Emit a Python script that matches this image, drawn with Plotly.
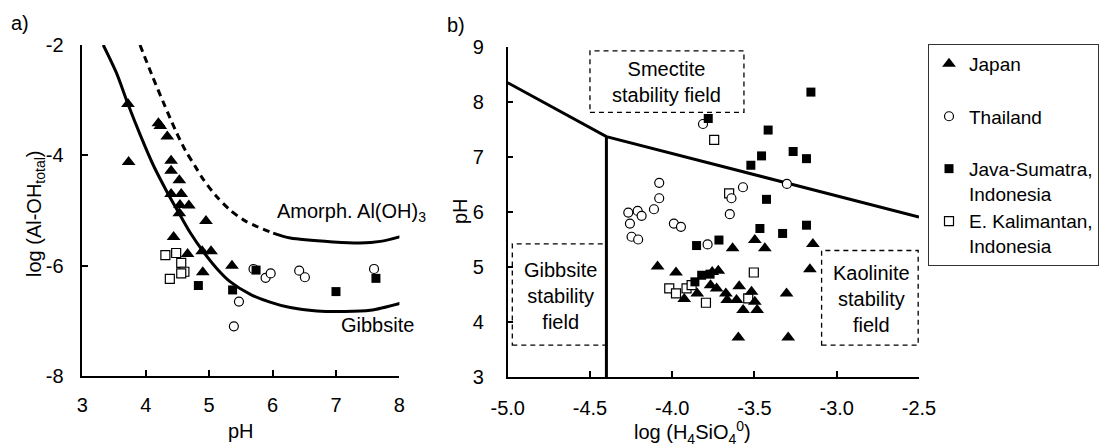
import plotly.graph_objects as go

# ---------------- Panel a data: pH vs log(Al-OH total) ----------------
japan_a_ph = [3.72, 3.73, 4.20, 4.23, 4.34, 4.40, 4.40, 4.53, 4.40, 4.56, 4.54, 4.68, 4.53, 4.95, 4.44, 4.66, 4.89, 5.03, 4.90, 5.36]
japan_a_al = [-3.07, -4.12, -3.42, -3.47, -3.66, -4.10, -4.28, -4.45, -4.70, -4.70, -4.90, -4.91, -5.05, -5.19, -5.48, -5.79, -5.74, -5.74, -6.12, -6.00]

thai_a_ph = [5.70, 5.89, 5.97, 5.47, 5.39, 6.42, 6.51, 7.60]
thai_a_al = [-6.06, -6.22, -6.14, -6.65, -7.10, -6.09, -6.21, -6.06]

java_a_ph = [4.83, 5.37, 5.74, 7.00, 7.63]
java_a_al = [-6.36, -6.44, -6.08, -6.47, -6.23]

kal_a_ph = [4.31, 4.48, 4.56, 4.61, 4.56, 4.38]
kal_a_al = [-5.81, -5.77, -5.95, -6.11, -6.14, -6.24]

gibbsite_ph = [3.33, 3.54, 3.72, 3.91, 4.12, 4.33, 4.51, 4.70, 4.91, 5.12, 5.33, 5.65, 5.96, 6.28, 6.70, 7.10, 7.54, 8.12]
gibbsite_al = [-2.00, -2.51, -3.07, -3.62, -4.18, -4.65, -5.02, -5.40, -5.75, -6.05, -6.29, -6.52, -6.66, -6.76, -6.82, -6.83, -6.81, -6.65]

amorph_dash_ph = [3.91, 4.10, 4.30, 4.47, 4.62, 4.78, 4.91, 5.12, 5.33, 5.54, 5.75, 6.01]
amorph_dash_al = [-2.00, -2.55, -3.10, -3.55, -3.90, -4.20, -4.44, -4.75, -4.99, -5.17, -5.29, -5.41]
amorph_solid_ph = [6.01, 6.28, 6.96, 7.38, 7.70, 8.12]
amorph_solid_al = [-5.41, -5.50, -5.57, -5.59, -5.56, -5.44]

# ---------------- Panel b data: log(H4SiO4) vs pH ----------------
japan_b_si = [-4.089, -3.977, -3.927, -3.848, -3.633, -3.498, -3.437, -3.757, -3.720, -3.767, -3.730, -3.674,
              -3.666, -3.593, -3.609, -3.569, -3.518, -3.498, -3.484, -3.598, -3.305, -3.295, -3.163, -3.145]
japan_b_ph = [5.01, 4.90, 4.42, 4.52, 5.34, 5.49, 5.34, 4.91, 4.93, 4.67, 4.61, 4.52,
              4.40, 4.65, 4.40, 4.22, 4.55, 4.37, 4.22, 3.72, 4.52, 3.72, 4.96, 5.42]

thai_b_si = [-3.813, -4.267, -4.210, -4.186, -4.257, -4.247, -4.207, -4.111, -4.079, -4.079, -3.990, -3.947,
             -3.785, -3.650, -3.640, -3.570, -3.303]
thai_b_ph = [7.60, 5.99, 6.02, 5.93, 5.79, 5.55, 5.50, 6.05, 6.25, 6.53, 5.79, 5.73,
             5.41, 5.96, 6.25, 6.45, 6.51]

java_b_si = [-3.157, -3.781, -3.417, -3.457, -3.522, -3.265, -3.184, -3.427, -3.467, -3.329, -3.184, -3.716,
             -3.852, -3.862, -3.821, -3.770]
java_b_ph = [8.18, 7.70, 7.49, 7.02, 6.85, 7.10, 6.97, 6.23, 5.70, 5.61, 5.76, 5.49,
             5.39, 4.73, 4.85, 4.87]

kal_b_si = [-3.745, -3.654, -3.504, -4.018, -3.977, -3.913, -3.882, -3.795, -3.538]
kal_b_ph = [7.31, 6.34, 4.90, 4.61, 4.52, 4.61, 4.67, 4.35, 4.43]

boundary_si = [-5.0, -4.40, -2.5]
boundary_ph = [8.35, 7.37, 5.91]
vertical_si = [-4.40, -4.40]
vertical_ph = [7.37, 3.0]

# tick labels
xa_ticks = [3, 4, 5, 6, 7, 8]
xa_text = ["3", "4", "5", "6", "7", "8"]
ya_ticks = [-8, -6, -4, -2]
ya_text = ["-8", "-6", "-4", "-2"]
xb_ticks = [-5.0, -4.5, -4.0, -3.5, -3.0, -2.5]
xb_text = ["-5.0", "-4.5", "-4.0", "-3.5", "-3.0", "-2.5"]
yb_ticks = [3, 4, 5, 6, 7, 8, 9]
yb_text = ["3", "4", "5", "6", "7", "8", "9"]

FONT = "Liberation Sans, Arial, sans-serif"
FS = 20
LFS = 19
W, H = 1110, 448

def px(x):
    return x / W

def py(y):
    return 1 - y / H

fig = go.Figure()

tri = dict(symbol="triangle-up", size=12, color="black", line=dict(width=0))
circ = dict(symbol="circle", size=9, color="white", line=dict(width=1.2, color="black"))
sqf = dict(symbol="square", size=9, color="black", line=dict(width=0))
sqo = dict(symbol="square", size=9, color="white", line=dict(width=1.2, color="black"))

# Panel a curves
fig.add_trace(go.Scatter(x=gibbsite_ph, y=gibbsite_al, mode="lines", xaxis="x", yaxis="y",
                         line=dict(color="black", width=3, shape="spline", smoothing=0.8), showlegend=False))
fig.add_trace(go.Scatter(x=amorph_dash_ph, y=amorph_dash_al, mode="lines", xaxis="x", yaxis="y",
                         line=dict(color="black", width=3, dash="7px,5px", shape="spline", smoothing=0.8), showlegend=False))
fig.add_trace(go.Scatter(x=amorph_solid_ph, y=amorph_solid_al, mode="lines", xaxis="x", yaxis="y",
                         line=dict(color="black", width=3, shape="spline", smoothing=0.8), showlegend=False))

# Panel a markers
fig.add_trace(go.Scatter(x=kal_a_ph, y=kal_a_al, mode="markers", marker=sqo, xaxis="x", yaxis="y", showlegend=False, cliponaxis=False))
fig.add_trace(go.Scatter(x=thai_a_ph, y=thai_a_al, mode="markers", marker=circ, xaxis="x", yaxis="y", showlegend=False, cliponaxis=False))
fig.add_trace(go.Scatter(x=java_a_ph, y=java_a_al, mode="markers", marker=sqf, xaxis="x", yaxis="y", showlegend=False, cliponaxis=False))
fig.add_trace(go.Scatter(x=japan_a_ph, y=japan_a_al, mode="markers", marker=tri, xaxis="x", yaxis="y", showlegend=False, cliponaxis=False))

# Panel b lines
fig.add_trace(go.Scatter(x=boundary_si, y=boundary_ph, mode="lines", xaxis="x2", yaxis="y2",
                         line=dict(color="black", width=3), showlegend=False))
fig.add_trace(go.Scatter(x=vertical_si, y=vertical_ph, mode="lines", xaxis="x2", yaxis="y2",
                         line=dict(color="black", width=3), showlegend=False))

# Panel b markers (these carry the legend)
fig.add_trace(go.Scatter(x=kal_b_si, y=kal_b_ph, mode="markers", marker=sqo, xaxis="x2", yaxis="y2",
                         name="E. Kalimantan,<br>Indonesia", legendrank=4, cliponaxis=False))
fig.add_trace(go.Scatter(x=thai_b_si, y=thai_b_ph, mode="markers", marker=circ, xaxis="x2", yaxis="y2",
                         name="Thailand<br>&nbsp;", legendrank=2, cliponaxis=False))
fig.add_trace(go.Scatter(x=java_b_si, y=java_b_ph, mode="markers", marker=sqf, xaxis="x2", yaxis="y2",
                         name="Java-Sumatra,<br>Indonesia", legendrank=3, cliponaxis=False))
fig.add_trace(go.Scatter(x=japan_b_si, y=japan_b_ph, mode="markers", marker=tri, xaxis="x2", yaxis="y2",
                         name="Japan<br>&nbsp;", legendrank=1, cliponaxis=False))

axis_common = dict(showline=True, linecolor="black", linewidth=1.5, ticks="inside", ticklen=6,
                   tickwidth=1.5, tickcolor="black", showgrid=False, zeroline=False, tickmode="array",
                   tickfont=dict(family=FONT, size=FS, color="black"), fixedrange=True, automargin=False)

fig.update_layout(
    width=W, height=H, autosize=False,
    margin=dict(l=0, r=0, t=0, b=0, autoexpand=False),
    paper_bgcolor="white", plot_bgcolor="white",
    font=dict(family=FONT, size=FS, color="black"),
    xaxis=dict(domain=[px(82.3), px(399.4)], range=[3, 8], tickvals=xa_ticks, ticktext=xa_text,
               anchor="y", ticklabelstandoff=10, **axis_common),
    yaxis=dict(domain=[py(376), py(45)], range=[-8, -2], tickvals=ya_ticks, ticktext=ya_text,
               anchor="x", ticklabelstandoff=13, **axis_common),
    xaxis2=dict(domain=[px(507.7), px(919)], range=[-5, -2.5], tickvals=xb_ticks, ticktext=xb_text,
                anchor="y2", ticklabelstandoff=12, **axis_common),
    yaxis2=dict(domain=[py(377), py(47)], range=[3, 9], tickvals=yb_ticks, ticktext=yb_text,
                anchor="x2", ticklabelstandoff=18, **axis_common),
    showlegend=True,
    legend=dict(x=px(928), y=py(44), xanchor="left", yanchor="top", bordercolor="#333333", borderwidth=1,
                bgcolor="white", font=dict(family=FONT, size=LFS, color="black"), valign="top",
                tracegroupgap=0),
)

# dashed stability field boxes (panel b)
boxes = [(-4.50, -3.564, 7.81, 8.93), (-4.972, -4.403, 3.58, 5.42), (-3.092, -2.505, 3.58, 5.30)]
for x0, x1, y0, y1 in boxes:
    fig.add_shape(type="rect", xref="x2", yref="y2", x0=x0, x1=x1, y0=y0, y1=y1,
                  line=dict(color="black", width=1.3, dash="5px,4px"), fillcolor="rgba(0,0,0,0)")

ann = []
def add_ann(text, x, y, xref="paper", yref="paper", xanchor="center", angle=0, align="center"):
    ann.append(dict(text=text, x=x, y=y, xref=xref, yref=yref, xanchor=xanchor, yanchor="middle",
                    showarrow=False, textangle=angle, align=align,
                    font=dict(family=FONT, size=FS, color="black")))

add_ann("a)", px(20), py(23))
add_ann("b)", px(456), py(25))
add_ann("log (Al-OH<sub>total</sub>)", px(35), py(214), angle=-90)
add_ann("pH", px(241), py(431))
add_ann("pH", px(460), py(211), angle=-90)
add_ann("log (H<sub>4</sub>SiO<sub>4</sub><sup>0</sup>)", px(692), py(432))
add_ann("Amorph. Al(OH)<sub>3</sub>", 6.04, -5.04, xref="x", yref="y", xanchor="left")
add_ann("Gibbsite", 7.04, -7.07, xref="x", yref="y", xanchor="left")
add_ann("Smectite<br>stability field", -4.032, 8.37, xref="x2", yref="y2")
add_ann("Gibbsite<br>stability<br>field", -4.68, 4.47, xref="x2", yref="y2")
add_ann("Kaolinite<br>stability<br>field", -2.789, 4.42, xref="x2", yref="y2")
fig.update_layout(annotations=ann)

fig.write_html("out.html")
